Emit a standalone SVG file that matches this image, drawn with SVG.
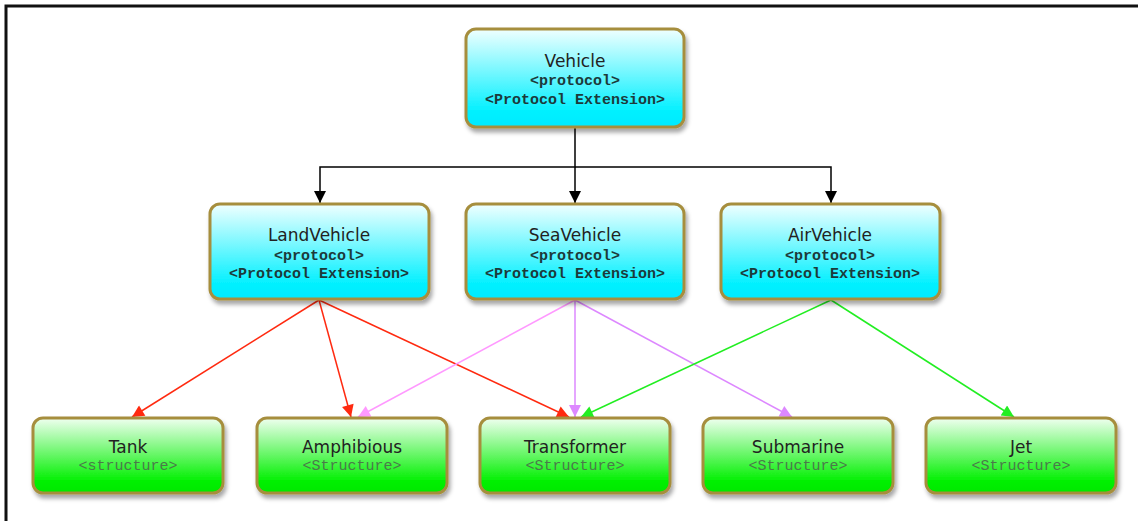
<svg xmlns="http://www.w3.org/2000/svg" width="1138" height="521" viewBox="0 0 1138 521">
<style>
.box{stroke:#a68e3e;stroke-width:3;filter:url(#sh)}
.p{fill:url(#cy)}
.s{fill:url(#gr)}
.t{font-family:"DejaVu Sans","Liberation Sans",sans-serif;font-size:17px;fill:#222;text-anchor:middle}
.m{font-family:"Liberation Mono","Courier New",monospace;font-size:15px;font-weight:bold;fill:#1c3a3a;text-anchor:middle}
.ms{font-family:"Liberation Mono","Courier New",monospace;font-size:15px;fill:#4a7a4a;text-anchor:middle}
.c{fill:none;stroke-width:1.5}
</style>
<defs>
<linearGradient id="cy" x1="0" y1="0" x2="0" y2="1">
<stop offset="0" stop-color="#f0ffff"/>
<stop offset="0.85" stop-color="#00f0ff"/>
<stop offset="1" stop-color="#00eaff"/>
</linearGradient>
<linearGradient id="gr" x1="0" y1="0" x2="0" y2="1">
<stop offset="0" stop-color="#f0fff0"/>
<stop offset="0.85" stop-color="#00f000"/>
<stop offset="1" stop-color="#00e800"/>
</linearGradient>
<filter id="sh" x="-10%" y="-10%" width="130%" height="140%">
<feDropShadow dx="2" dy="4" stdDeviation="2" flood-color="#000" flood-opacity="0.35"/>
</filter>
<marker id="ak" markerWidth="12" markerHeight="12" refX="10" refY="5" orient="auto" markerUnits="userSpaceOnUse" viewBox="0 0 10 10"><path d="M0,0 L10,5 L0,10 z" fill="#000"/></marker>
<marker id="ar" markerWidth="14" markerHeight="12" refX="10" refY="5" orient="auto" markerUnits="userSpaceOnUse" viewBox="0 0 10 10"><path d="M0,0 L10,5 L0,10 z" fill="#ff2a10"/></marker>
<marker id="ap" markerWidth="14" markerHeight="12" refX="10" refY="5" orient="auto" markerUnits="userSpaceOnUse" viewBox="0 0 10 10"><path d="M0,0 L10,5 L0,10 z" fill="#ff99ff"/></marker>
<marker id="av" markerWidth="14" markerHeight="12" refX="10" refY="5" orient="auto" markerUnits="userSpaceOnUse" viewBox="0 0 10 10"><path d="M0,0 L10,5 L0,10 z" fill="#dd88ff"/></marker>
<marker id="ag" markerWidth="14" markerHeight="12" refX="10" refY="5" orient="auto" markerUnits="userSpaceOnUse" viewBox="0 0 10 10"><path d="M0,0 L10,5 L0,10 z" fill="#22ee22"/></marker>
</defs>
<rect width="1138" height="521" fill="#fff"/>
<path d="M6,521 V6 H1138" fill="none" stroke="#111" stroke-width="3"/>
<g id="connectors">
<path class="c" stroke="#000" d="M575,127 V167 H320 V203" marker-end="url(#ak)"/>
<path class="c" stroke="#000" d="M575,167 V203" marker-end="url(#ak)"/>
<path class="c" stroke="#000" d="M575,167 H831 V203" marker-end="url(#ak)"/>
<path class="c" stroke="#ff2a10" d="M319,300 L132,417" marker-end="url(#ar)"/>
<path class="c" stroke="#ff2a10" d="M319,300 L351,417" marker-end="url(#ar)"/>
<path class="c" stroke="#ff2a10" d="M319,300 L569,417" marker-end="url(#ar)"/>
<path class="c" stroke="#ff99ff" d="M575,300 L358,417" marker-end="url(#ap)"/>
<path class="c" stroke="#dd88ff" d="M575,300 L575,417" marker-end="url(#av)"/>
<path class="c" stroke="#dd88ff" d="M575,300 L792,417" marker-end="url(#av)"/>
<path class="c" stroke="#22ee22" d="M831,300 L581,417" marker-end="url(#ag)"/>
<path class="c" stroke="#22ee22" d="M831,300 L1014,417" marker-end="url(#ag)"/>
</g>
<g id="vehicle">
<rect class="box p" x="466" y="29" width="218" height="98" rx="10"/>
<text class="t" x="575" y="67">Vehicle</text>
<text class="m" x="575" y="85">&lt;protocol&gt;</text>
<text class="m" x="575" y="104">&lt;Protocol Extension&gt;</text>
</g>
<g id="landvehicle">
<rect class="box p" x="210" y="204" width="219" height="95" rx="10"/>
<text class="t" x="319" y="241">LandVehicle</text>
<text class="m" x="319" y="260">&lt;protocol&gt;</text>
<text class="m" x="319" y="278">&lt;Protocol Extension&gt;</text>
</g>
<g id="seavehicle">
<rect class="box p" x="466" y="204" width="218" height="95" rx="10"/>
<text class="t" x="575" y="241">SeaVehicle</text>
<text class="m" x="575" y="260">&lt;protocol&gt;</text>
<text class="m" x="575" y="278">&lt;Protocol Extension&gt;</text>
</g>
<g id="airvehicle">
<rect class="box p" x="721" y="204" width="219" height="95" rx="10"/>
<text class="t" x="830" y="241">AirVehicle</text>
<text class="m" x="830" y="260">&lt;protocol&gt;</text>
<text class="m" x="830" y="278">&lt;Protocol Extension&gt;</text>
</g>
<g id="tank">
<rect class="box s" x="33" y="418" width="190" height="75" rx="10"/>
<text class="t" x="128" y="453">Tank</text>
<text class="ms" x="128" y="470">&lt;structure&gt;</text>
</g>
<g id="amphibious">
<rect class="box s" x="257" y="418" width="190" height="75" rx="10"/>
<text class="t" x="352" y="453">Amphibious</text>
<text class="ms" x="352" y="470">&lt;Structure&gt;</text>
</g>
<g id="transformer">
<rect class="box s" x="480" y="418" width="190" height="75" rx="10"/>
<text class="t" x="575" y="453">Transformer</text>
<text class="ms" x="575" y="470">&lt;Structure&gt;</text>
</g>
<g id="submarine">
<rect class="box s" x="703" y="418" width="190" height="75" rx="10"/>
<text class="t" x="798" y="453">Submarine</text>
<text class="ms" x="798" y="470">&lt;Structure&gt;</text>
</g>
<g id="jet">
<rect class="box s" x="926" y="418" width="190" height="75" rx="10"/>
<text class="t" x="1021" y="453">Jet</text>
<text class="ms" x="1021" y="470">&lt;Structure&gt;</text>
</g>
</svg>
